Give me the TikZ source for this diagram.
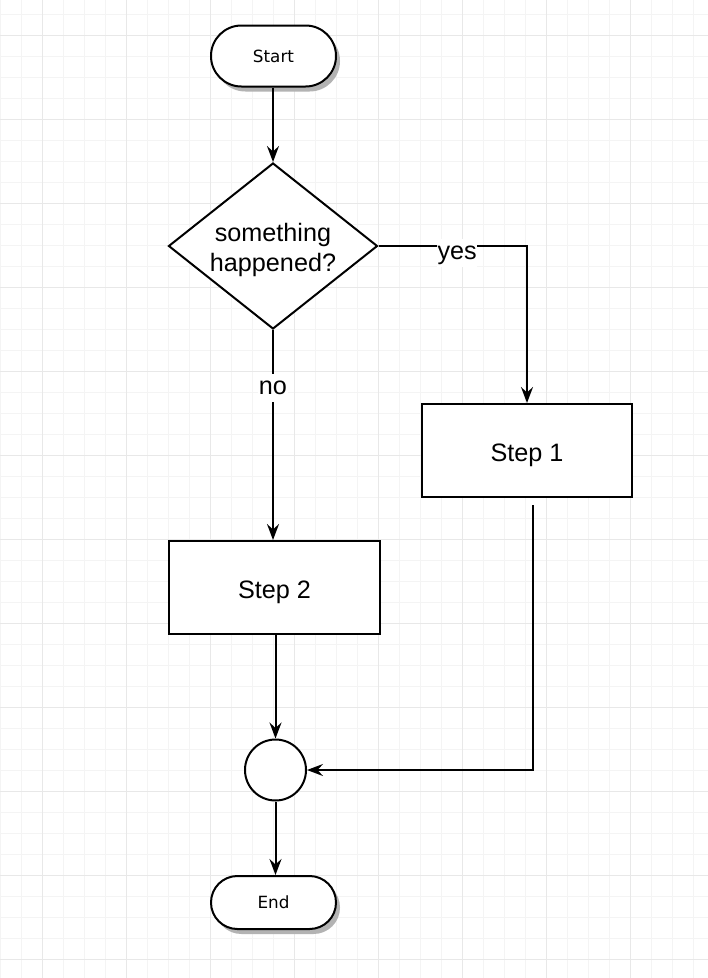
\documentclass[tikz,border=0pt]{standalone}
\usepackage{fontspec}
\setmainfont{Liberation Sans}
\newfontfamily\dejavu{DejaVu Sans}
\usetikzlibrary{shapes.geometric,arrows.meta,shadows}
\definecolor{minorgrid}{HTML}{F4F4F4}
\definecolor{majorgrid}{HTML}{E8E8E8}
\definecolor{shadowgray}{HTML}{B3B3B3}
\begin{document}
\begin{tikzpicture}[x=1pt,y=-1pt,
  base/.style={draw=black, line width=2pt, fill=white, inner sep=0pt},
  term/.style={base, rectangle, font=\dejavu\fontsize{16.8}{20}\selectfont,
    drop shadow={shadow xshift=4pt, shadow yshift=-5pt, fill=shadowgray, opacity=1}},
  decision/.style={base, diamond, aspect=1.25, minimum width=209pt, minimum height=166pt,
    align=center, font=\fontsize{25.2}{30}\selectfont},
  proc/.style={base, rectangle, text height=21pt, text depth=0pt,
    font=\fontsize{25.2}{30}\selectfont},
  junction/.style={base, circle, minimum size=61pt},
  arr/.style={line width=2pt, -{Stealth[length=16pt,width=12pt,inset=5.5pt]}},
  lbl/.style={fill=white, inner xsep=0.5pt, inner ysep=2pt, text height=18pt, text depth=6pt,
    font=\fontsize{25.2}{30}\selectfont}
]
\useasboundingbox (0,0) rectangle (708,978);
\fill[white] (0,0) rectangle (708,978);
% grid
\foreach \x in {0,21,...,707} \draw[minorgrid, line width=1pt] (\x,0) -- (\x,978);
\foreach \y in {14,35,...,977} \draw[minorgrid, line width=1pt] (0,\y) -- (708,\y);
\foreach \x in {42,126,...,707} \draw[majorgrid, line width=1pt] (\x,0) -- (\x,978);
\foreach \y in {35,119,...,977} \draw[majorgrid, line width=1pt] (0,\y) -- (708,\y);

% nodes
\node[term, minimum width=125pt, minimum height=61pt, rounded corners=30.4pt] (start) at (273.5,56) {Start};
\node[decision] (dec) at (273,246) {\rule{0pt}{26pt}something\\happened?};
\node[proc, minimum width=210pt, minimum height=93pt] (s1) at (527,450.5) {Step 1};
\node[proc, minimum width=211pt, minimum height=93pt] (s2) at (274.5,587.5) {Step 2};
\node[junction] (join) at (275.5,770) {};
\node[term, minimum width=125pt, minimum height=53pt, rounded corners=26.4pt] (end) at (273.5,902.5) {End};
\coordinate (s1out) at (533,505);

% connectors
\draw[arr] (dec.north |- start.south) -- (dec.north);
\draw[arr] (dec.east) -| node[lbl, pos=0.265, anchor=base, yshift=-13pt] {yes} (s1.north);
\draw[arr] (dec.south) -- node[lbl, pos=0.305, anchor=base] {no} (dec.south |- s2.north);
\draw[arr] (s1out) |- (join.east);
\draw[arr] (join.north |- s2.south) -- (join.north);
\draw[arr] (join.south) -- (join.south |- end.north);
\end{tikzpicture}
\end{document}
